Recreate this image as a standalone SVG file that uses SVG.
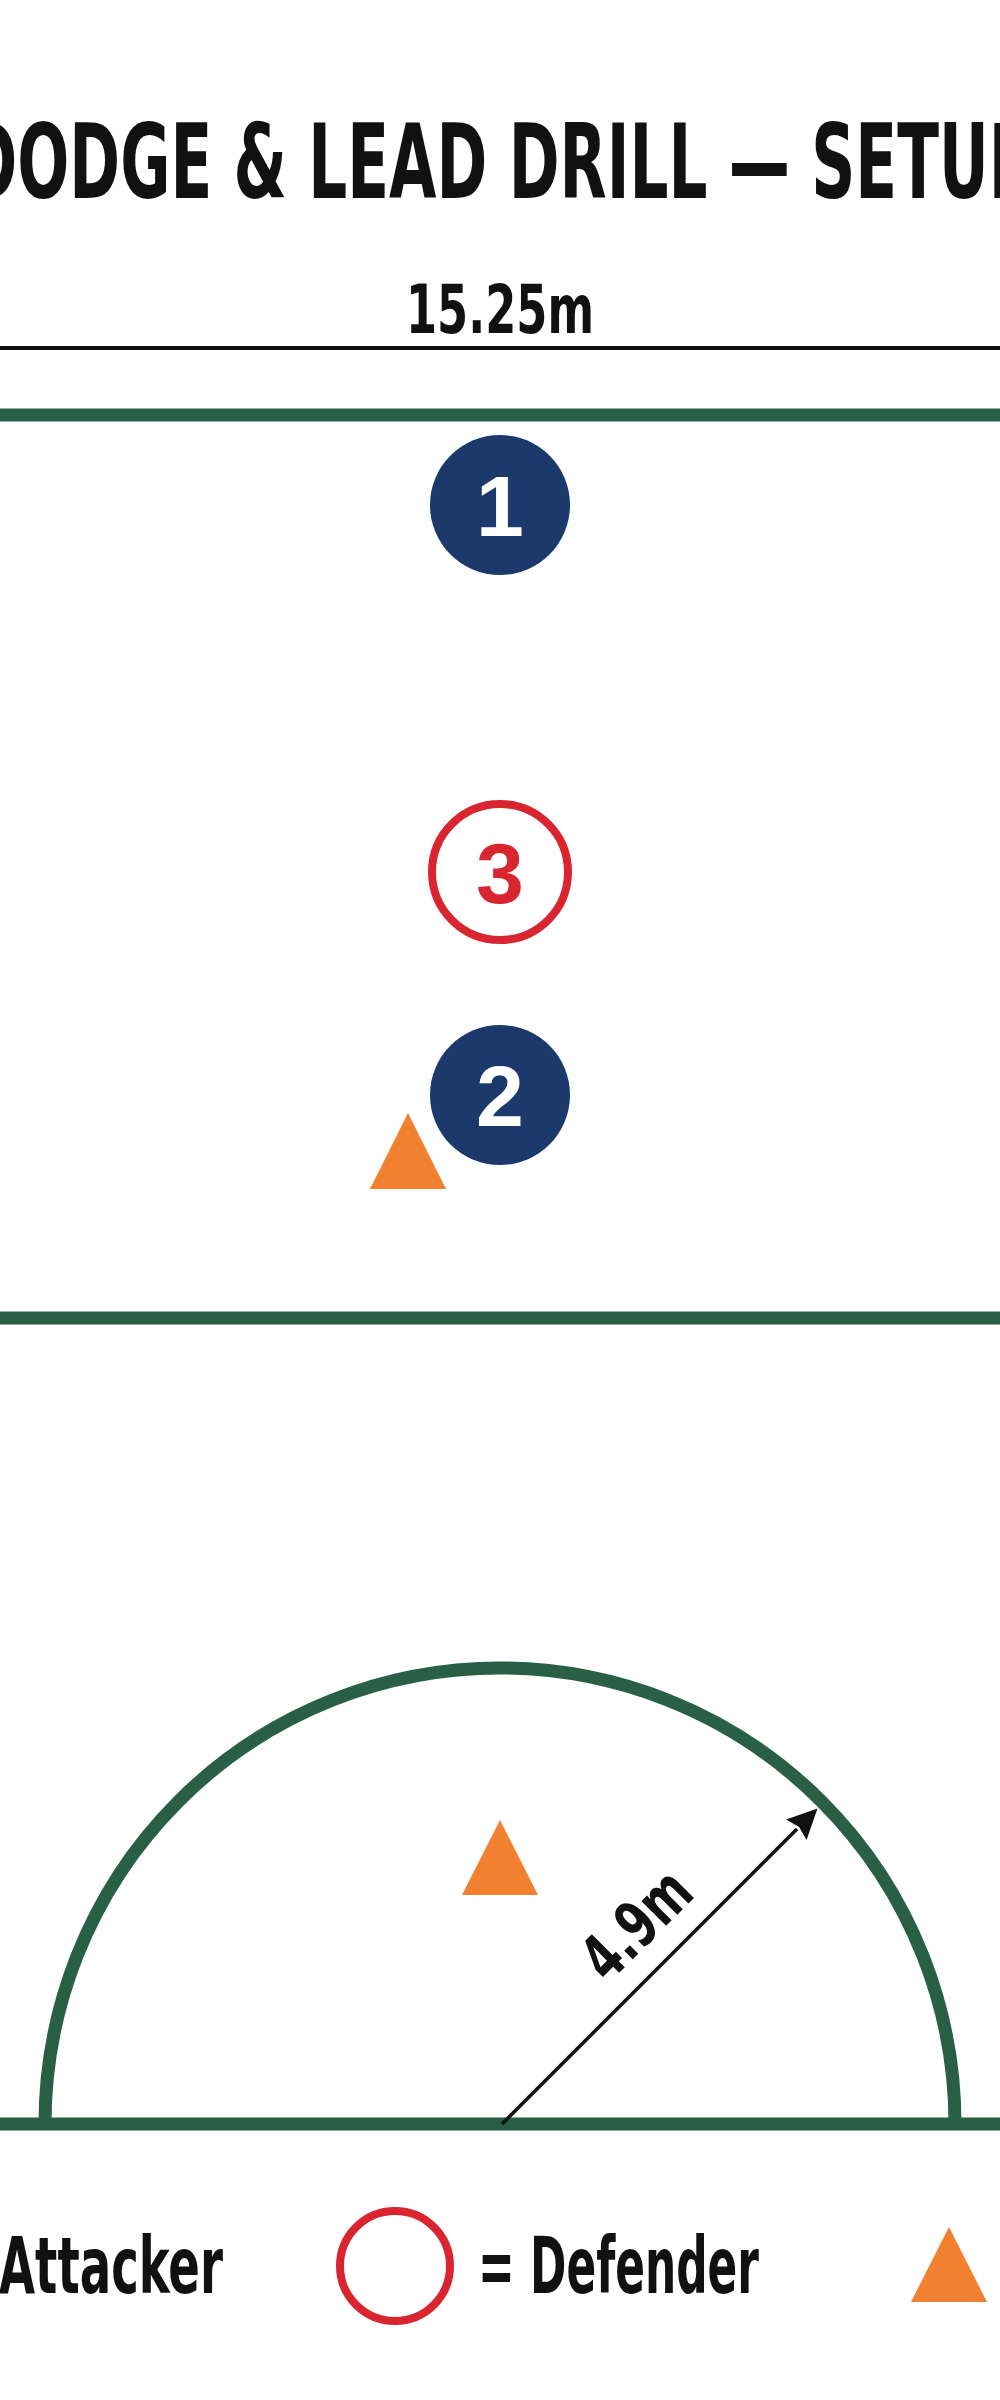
<svg xmlns="http://www.w3.org/2000/svg" width="1000" height="2400" viewBox="0 0 1000 2400">
  <style>
    .cond { font-family: "Liberation Sans Narrow", "DejaVu Sans Condensed", "Liberation Sans", sans-serif; font-weight: bold; fill: #111111; }
    .num { font-family: "Liberation Sans", Arial, sans-serif; font-weight: bold; font-size: 86px; text-anchor: middle; }
    .field { stroke: #2a5f47; stroke-width: 13; fill: none; }
    .attacker { fill: #1c396b; }
    .defender { fill: #ffffff; stroke: #d9252f; stroke-width: 8; }
    .cone { fill: #f18030; }
  </style>
  <defs>
    <marker id="arrowhead" markerUnits="userSpaceOnUse" markerWidth="32" markerHeight="30" refX="1" refY="14.5" orient="auto">
      <path d="M0,0 L30,14.5 L0,29 L4,14.5 z" fill="#111111"/>
    </marker>
  </defs>
  <rect x="0" y="0" width="1000" height="2400" fill="#fefefe"/>

  <g id="title">
    <text class="cond" x="500" y="198" font-size="104" text-anchor="middle" textLength="1067" lengthAdjust="spacingAndGlyphs">DODGE &amp; LEAD DRILL — SETUP</text>
  </g>

  <g id="width-dimension">
    <text class="cond" x="500" y="333" font-size="67" text-anchor="middle" textLength="188" lengthAdjust="spacingAndGlyphs">15.25m</text>
    <line x1="0" y1="348" x2="1000" y2="348" stroke="#111111" stroke-width="4"/>
  </g>

  <g id="field">
    <line class="field" x1="0" y1="415" x2="1000" y2="415"/>
    <line class="field" x1="0" y1="1318" x2="1000" y2="1318"/>
    <line class="field" x1="0" y1="2124" x2="1000" y2="2124"/>
    <path class="field" d="M 45 2124 A 455 456 0 0 1 955 2124"/>
  </g>

  <g id="connectors">
    <line x1="502" y1="2124" x2="797" y2="1829" stroke="#111111" stroke-width="3.5" marker-end="url(#arrowhead)"/>
    <text class="cond" transform="translate(652,1940) rotate(-45)" x="0" y="0" font-size="64" text-anchor="middle" textLength="126" lengthAdjust="spacingAndGlyphs">4.9m</text>
  </g>

  <g id="player-1">
    <circle class="attacker" cx="500" cy="505" r="70"/>
    <text class="num" x="500" y="536" fill="#ffffff">1</text>
  </g>

  <g id="player-3">
    <circle class="defender" cx="500" cy="872" r="68"/>
    <text class="num" x="500" y="903" fill="#d9252f">3</text>
  </g>

  <g id="player-2">
    <circle class="attacker" cx="500" cy="1095" r="70"/>
    <text class="num" x="500" y="1126" fill="#ffffff">2</text>
  </g>

  <g id="cone-1">
    <polygon class="cone" points="408,1113 370,1189 446,1189"/>
  </g>

  <g id="cone-2">
    <polygon class="cone" points="500,1820 462,1895 538,1895"/>
  </g>

  <g id="legend">
    <text class="cond" x="-1" y="2293" font-size="78" textLength="224" lengthAdjust="spacingAndGlyphs">Attacker</text>
    <circle class="defender" cx="395" cy="2266" r="55"/>
    <text class="cond" x="478" y="2293" font-size="78" textLength="281" lengthAdjust="spacingAndGlyphs">= Defender</text>
    <polygon class="cone" points="949,2227 911,2302 987,2302"/>
  </g>
</svg>
